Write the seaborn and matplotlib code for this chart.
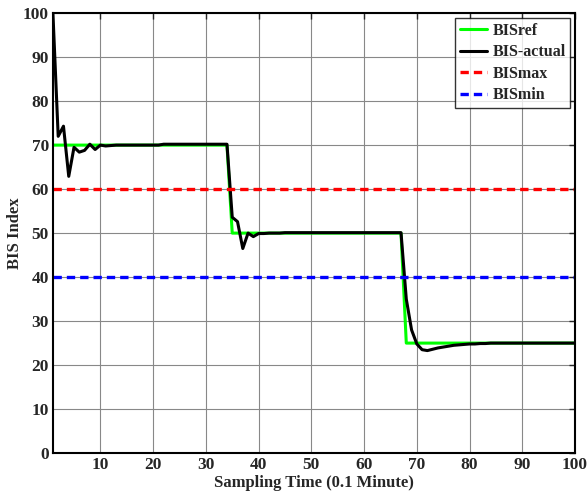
import numpy as np
import pandas as pd
import matplotlib
matplotlib.use("Agg")
import matplotlib.pyplot as plt
import seaborn as sns

# sampling instants 1..100
samples = list(range(1, 101))

# reference BIS (step changes at 34->35 and 67->68)
bis_ref = [70] * 34 + [50] * 33 + [25] * 33

# measured BIS response
bis_actual = ([100, 72, 74.3, 62.9, 69.5, 68.4, 68.8, 70.2, 69, 70,
               69.8, 69.9, 70, 70, 70, 70, 70, 70, 70, 70,
               70, 70.2, 70.2, 70.2, 70.2, 70.2, 70.2, 70.2, 70.2, 70.2,
               70.2, 70.2, 70.2, 70.2,
               53.6, 52.6, 46.5, 50, 49.2, 49.9, 49.9, 50, 50, 50,
               50.1, 50.1, 50.1, 50.1, 50.1, 50.1, 50.1, 50.1, 50.1, 50.1,
               50.1, 50.1, 50.1, 50.1, 50.1, 50.1, 50.1, 50.1, 50.1, 50.1,
               50.1, 50.1, 50.1,
               35, 28, 24.8, 23.5, 23.3, 23.6, 23.9, 24.1, 24.3, 24.5,
               24.6, 24.7, 24.8, 24.8, 24.9, 24.9, 25, 25, 25, 25,
               25, 25, 25, 25, 25, 25, 25, 25, 25, 25,
               25, 25, 25])

bis_max = [60] * 100
bis_min = [40] * 100

df = pd.DataFrame({"t": samples, "ref": bis_ref, "actual": bis_actual,
                   "max": bis_max, "min": bis_min})

sns.set_style("white")
plt.rcParams['font.family'] = ['Liberation Serif', 'DejaVu Serif']
plt.rcParams['font.weight'] = 'bold'

fig = plt.figure(figsize=(5.88, 5.04), dpi=100)
ax = fig.add_axes([0.090, 0.101, 0.888, 0.873])

sns.lineplot(data=df, x="t", y="ref", color="#00ff00", linewidth=2.2, label="BISref", ax=ax)
sns.lineplot(data=df, x="t", y="actual", color="black", linewidth=2.2, label="BIS-actual", ax=ax)
sns.lineplot(data=df, x="t", y="max", color="red", linewidth=2.4, label="BISmax", ax=ax)
sns.lineplot(data=df, x="t", y="min", color="blue", linewidth=2.4, label="BISmin", ax=ax)
ax.lines[2].set_dashes((2.5, 1.5))
ax.lines[3].set_dashes((2.5, 1.5))

ax.set_xlim(1, 100)
ax.set_ylim(0, 100)
ax.set_xticks(range(10, 101, 10))
ax.set_yticks(range(0, 101, 10))
ax.grid(True, color="#888888", linewidth=0.8)
ax.tick_params(direction="in", top=True, right=True, length=4, width=1,
               labelsize=12.5, pad=3)
for lab in ax.get_xticklabels() + ax.get_yticklabels():
    lab.set_fontweight("bold")
for s in ax.spines.values():
    s.set_color("black")
    s.set_linewidth(1.5)

ax.set_xlabel("Sampling Time (0.1 Minute)", fontsize=12, fontweight="bold", labelpad=1)
ax.set_ylabel("BIS Index", fontsize=12, fontweight="bold", labelpad=0)

leg = ax.legend(loc="upper right", fontsize=11.5, frameon=True, fancybox=False,
                borderpad=0.3, handlelength=1.7, handletextpad=0.3, labelspacing=0.35,
                borderaxespad=0.3)
leg.get_frame().set_edgecolor("black")
leg.get_frame().set_linewidth(1.0)
for t in leg.get_texts():
    t.set_fontweight("bold")

fig.savefig("out.png", dpi=100)
